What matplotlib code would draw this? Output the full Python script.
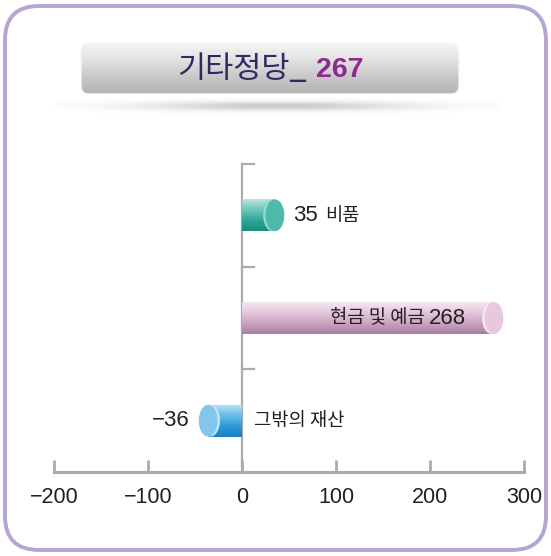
import numpy as np
import matplotlib
matplotlib.use("Agg")
import matplotlib.pyplot as plt
from matplotlib.patches import FancyBboxPatch, Ellipse
from matplotlib.colors import LinearSegmentedColormap

# ---- data ----
title_text = "기타정당_"
title_value = "267"
categories = ["비품", "현금 및 예금", "그밖의 재산"]
values = [35, 268, -36]
xticks = [-200, -100, 0, 100, 200, 300]

FONT = ["Liberation Sans", "Noto Sans CJK KR", "DejaVu Sans"]
KFONT = ["Noto Sans CJK KR", "DejaVu Sans"]
plt.rcParams['font.family'] = FONT

W, H = 551, 556
fig = plt.figure(figsize=(W / 100, H / 100), dpi=100)

# ---- background (pixel coordinates) ----
bg = fig.add_axes([0, 0, 1, 1], zorder=0)
bg.set_xlim(0, W)
bg.set_ylim(H, 0)
bg.axis('off')

border = FancyBboxPatch((5, 6), W - 10, H - 12,
                        boxstyle="round,pad=0,rounding_size=34",
                        fc='white', ec='#b6a5d2', lw=2.8)
bg.add_patch(border)

# shadow under title box
sx = np.linspace(-1, 1, 300)
sy = np.linspace(-1, 1, 60)
SX, SY = np.meshgrid(sx, sy)
alpha = np.exp(-(SX ** 2) / 0.35 - (SY ** 2) / 0.08) * 0.45
shadow = np.zeros((60, 300, 4))
shadow[..., 0] = 0.55
shadow[..., 1] = 0.52
shadow[..., 2] = 0.52
shadow[..., 3] = alpha
bg.imshow(shadow, extent=[55, 500, 122, 90], aspect='auto', zorder=1,
          interpolation='bilinear')

# title box with gradient
tb = FancyBboxPatch((81, 43), 378, 51,
                    boxstyle="round,pad=0,rounding_size=8",
                    fc='none', ec='#f8f8f8', lw=1.0, zorder=3)
bg.add_patch(tb)
tcmap = LinearSegmentedColormap.from_list(
    "tb", ["#f5f5f5", "#e2e2e2", "#c8c8c8", "#b3b3b3"])
im = bg.imshow(np.linspace(0, 1, 100).reshape(-1, 1), cmap=tcmap,
               extent=[81, 459, 94, 43], aspect='auto', zorder=2,
               interpolation='bicubic')
im.set_clip_path(tb)
bg.set_xlim(0, W)
bg.set_ylim(H, 0)

bg.text(307, 70, title_text, ha='right', va='center', fontsize=22,
        color='#2d2b62', family=KFONT, fontweight='medium', zorder=4)
bg.text(316, 70, title_value, ha='left', va='center', fontsize=20.5,
        color='#8e2a8d', fontweight='bold', family=["Liberation Sans", "DejaVu Sans"],
        zorder=4)

# ---- main chart ----
ax = fig.add_axes([54 / W, 1 - 472 / H, 470 / W, 308 / H], zorder=1)
ax.patch.set_alpha(0)
ax.set_xlim(-200, 300)
ax.set_ylim(2.5, -0.5)

GRAY = '#a9abae'
for s in ['top', 'right', 'left']:
    ax.spines[s].set_visible(False)
ax.spines['bottom'].set_color(GRAY)
ax.spines['bottom'].set_linewidth(2.2)
ax.set_yticks([])
ax.set_xticks(xticks)
ax.tick_params(axis='x', direction='in', length=9, width=2, color=GRAY,
               labelsize=15.5, labelcolor='#231f20', pad=11)

# vertical axis at zero with stubs
ax.plot([0, 0], [-0.5, 2.5], color=GRAY, lw=1.6, clip_on=False, zorder=1)
for yb in [-0.5, 0.5, 1.5]:
    ax.plot([0, 13], [yb, yb], color=GRAY, lw=1.6, clip_on=False, zorder=1)

styles = [
    dict(body=["#b8e5dc", "#6cc6b7", "#2ba696", "#1a8c7f"], cap="#4fb9aa", hl="#9ad8cc"),
    dict(body=["#f5e6f1", "#e3c6dc", "#cba3c2", "#a9809f"], cap="#e6c8df", hl="#f6eaf3"),
    dict(body=["#b2e0f6", "#67bce8", "#2d98d6", "#1a80c2"], cap="#82c6ec", hl="#c2e6f8"),
]

BAR_H = 0.31
CAP_W = 20
for i, (v, st) in enumerate(zip(values, styles)):
    x0, x1 = sorted((0, v))
    cmap = LinearSegmentedColormap.from_list("b%d" % i, st["body"])
    ax.imshow(np.linspace(0, 1, 100).reshape(-1, 1), cmap=cmap,
              extent=[x0, x1, i + BAR_H / 2, i - BAR_H / 2], aspect='auto',
              interpolation='bicubic', zorder=2)
    sgn = 1 if v >= 0 else -1
    ax.add_patch(Ellipse((v - sgn * 2.5, i), CAP_W, BAR_H, fc=st["hl"], ec='none', zorder=3))
    ax.add_patch(Ellipse((v, i), CAP_W, BAR_H, fc=st["cap"], ec='none', zorder=4))

ax.set_xlim(-200, 300)
ax.set_ylim(2.5, -0.5)

NUM = dict(fontsize=16, color='#231f20', va='center', zorder=5,
           family=["Liberation Sans", "DejaVu Sans"])
KOR = dict(fontsize=13.5, color='#231f20', va='center', zorder=5,
           family=KFONT, fontweight='medium')


def fmt(v):
    return str(v).replace("-", "\u2212")


# bar 0: "35 비품"
n0 = ax.annotate(fmt(values[0]), xy=(values[0], 0), xytext=(13, 0),
                 textcoords='offset points', ha='left', **NUM)
ax.annotate(categories[0], xy=(1, 0.5), xycoords=n0, xytext=(5, 0),
            textcoords='offset points', ha='left', **KOR)
# bar 1: "현금 및 예금 268"
n1 = ax.annotate(fmt(values[1]), xy=(values[1], 1), xytext=(-20, 0),
                 textcoords='offset points', ha='right', **NUM)
ax.annotate(categories[1], xy=(0, 0.5), xycoords=n1, xytext=(-3, 0),
            textcoords='offset points', ha='right', **KOR)
# bar 2: "−36" left of bar, name right of axis
ax.annotate(fmt(values[2]), xy=(values[2], 2), xytext=(-13, 0),
            textcoords='offset points', ha='right', **NUM)
ax.annotate(categories[2], xy=(0, 2), xytext=(9, 0),
            textcoords='offset points', ha='left', **KOR)

fig.savefig("out.png", dpi=100)
